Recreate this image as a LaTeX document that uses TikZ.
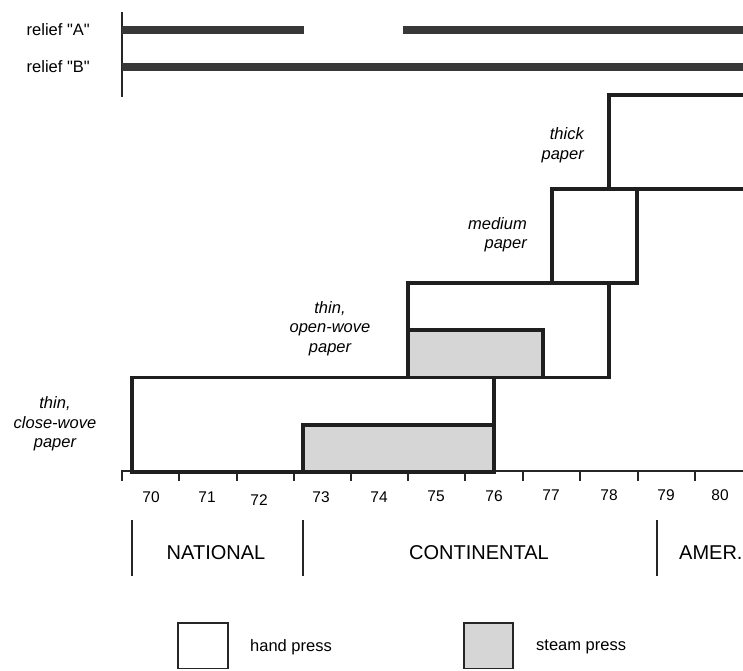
\documentclass[tikz,border=0pt]{standalone}
\usepackage{fontspec}
\setmainfont{Liberation Sans}
\newfontfamily\plainsans{Liberation Sans}[Ligatures=TeXOff]
\begin{document}
\begin{tikzpicture}[x=1pt,y=-1pt,
  boxline/.style={line width=3.4pt,draw=black!88,line join=miter},
  steamfill/.style={fill=black!16},
  relief/.style={line width=7.8pt,draw=black!78},
  thinline/.style={line width=1.8pt,draw=black!85},
  lbl/.style={font=\fontsize{16.5}{19.5}\selectfont,inner sep=0pt},
  rlbl/.style={font=\plainsans\fontsize{16.5}{19.5}\selectfont,inner sep=0pt},
  ital/.style={font=\fontsize{16.5}{19.5}\selectfont\itshape,inner sep=0pt},
  yr/.style={font=\fontsize{15.5}{18}\selectfont,inner sep=0pt},
  cat/.style={font=\fontsize{20}{24}\selectfont,inner sep=0pt}]
\useasboundingbox (0,0) rectangle (743,670);
% relief bars
\draw[thinline] (122,12) -- (122,97);
\draw[relief] (122,30) -- (304,30);
\draw[relief] (403,30) -- (743,30);
\draw[relief] (122,67) -- (743,67);
\node[rlbl,anchor=east] (ra) at (90,30) {relief "A"};
\node[rlbl,anchor=east] (rb) at (90,67) {relief "B"};
% steam fills
\fill[steamfill] (303,425) rectangle (494,472);
\fill[steamfill] (408,330) rectangle (543,377);
% axis
\draw[thinline] (122,481) -- (122,471) -- (743,471);
\foreach \x in {179,237,294,351,408,465,523,580,638,695}
  \draw[thinline] (\x,471) -- (\x,481);
% boxes
\draw[boxline] (132,472) rectangle (494,377.5);
\draw[boxline] (303,472) rectangle (494,425);
\draw[boxline] (408,377.5) rectangle (609,283);
\draw[boxline] (408,377.5) rectangle (543,330);
\draw[boxline] (552,283) rectangle (637,189);
\draw[boxline] (743,189) -- (609,189) -- (609,95) -- (743,95);
% italic labels
\node[ital,align=center] (tcw) at (55,424) {thin,\\close-wove\\paper};
\node[ital,align=center] (tow) at (330,328.5) {thin,\\open-wove\\paper};
\node[ital,align=right,anchor=east] (med) at (527,234.5) {medium\\paper};
\node[ital,align=right,anchor=east] (thk) at (584,145) {thick\\paper};
% year labels
\node[yr] (y70) at (151,497) {70};
\node[yr] (y71) at (207,497) {71};
\node[yr] (y72) at (259,500) {72};
\node[yr] (y73) at (321,497) {73};
\node[yr] (y74) at (379,497) {74};
\node[yr] (y75) at (436,496) {75};
\node[yr] (y76) at (494,496) {76};
\node[yr] (y77) at (551,495) {77};
\node[yr] (y78) at (609,495) {78};
\node[yr] (y79) at (666,495) {79};
\node[yr] (y80) at (720,495) {80};
% categories
\draw[thinline] (132,520) -- (132,576);
\draw[thinline] (303,520) -- (303,576);
\draw[thinline] (657,520) -- (657,576);
\node[cat] (nat) at (216,553) {NATIONAL};
\node[cat] (con) at (479,553) {CONTINENTAL};
\node[cat,anchor=west] (ame) at (679,553) {AMER.};
% legend
\draw[line width=1.6pt,draw=black!85] (178,668.5) rectangle (228,623);
\draw[line width=1.6pt,draw=black!85,steamfill] (464,668.5) rectangle (513,623);
\node[lbl,anchor=west] (hp) at (250,647) {hand press};
\node[lbl,anchor=west] (sp) at (536,647) {steam press};
\end{tikzpicture}
\end{document}
